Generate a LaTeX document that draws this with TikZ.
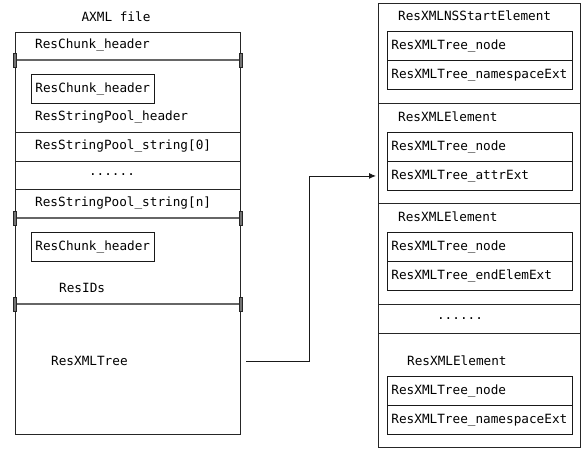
\documentclass[tikz,border=0pt]{standalone}
\usepackage{fontspec}
\setmonofont{DejaVu Sans Mono}
\usetikzlibrary{arrows.meta}
\tikzset{
  x=1pt, y=-1pt,
  every node/.style={font=\ttfamily\fontsize{12.7}{14}\selectfont, text=black},
  lbl/.style={anchor=west, inner sep=0pt},
  outer/.style={draw=black!85, line width=1pt, anchor=north west, inner sep=0pt},
  rowbox/.style={draw=black!90, line width=0.9pt, anchor=north west, minimum height=29pt,
    text width=177pt, inner xsep=4pt, inner ysep=0pt, align=left},
  hdrbox/.style={draw=black!90, line width=0.9pt, anchor=north west, minimum height=29pt,
    inner xsep=4pt, inner ysep=0pt},
  sep/.style={draw=black!85, line width=0.9pt},
  thickdiv/.style={draw=black!85, line width=0.8pt, double=black!60, double distance=1.3pt},
  tickmark/.style={draw=black!85, fill=black!55, line width=0.5pt},
  conn/.style={draw=black!90, line width=0.9pt, -{Latex[length=7pt,width=6pt]}}
}
\begin{document}
\begin{tikzpicture}
\useasboundingbox (0,0) rectangle (587,452);
% ---------- left: AXML file ----------
\node (title) at (116,17) {AXML file};
\node[outer, minimum width=225pt, minimum height=402pt] (axml) at (15,32) {};
\node[lbl] (ch0) at (35,45) {ResChunk\_header};
\node[hdrbox] (ch1) at (31,74) {ResChunk\_header};
\node[lbl] (sph) at (35,117) {ResStringPool\_header};
\node[lbl] (s0) at (35,146) {ResStringPool\_string[0]};
\node (ldots) at (112,175) {......};
\node[lbl] (sn) at (35,203) {ResStringPool\_string[n]};
\node[hdrbox] (ch2) at (31,232) {ResChunk\_header};
\node[lbl] (ids) at (59,288) {ResIDs};
\node[lbl] (tree) at (51,361) {ResXMLTree};
\foreach \yy in {132,161,189} {
  \draw[sep] (axml.west |- 0,\yy) -- (axml.east |- 0,\yy);
}
\foreach \yy in {60,218,304} {
  \draw[thickdiv] (axml.west |- 0,\yy) -- (axml.east |- 0,\yy);
  \draw[tickmark] ([shift={(-1.6,-7)}]axml.west |- 0,\yy) rectangle ([shift={(1.6,7)}]axml.west |- 0,\yy);
  \draw[tickmark] ([shift={(-1.6,-7)}]axml.east |- 0,\yy) rectangle ([shift={(1.6,7)}]axml.east |- 0,\yy);
}
% ---------- right: elements ----------
\node[outer, minimum width=202pt, minimum height=444pt] (rbox) at (378,3) {};
\node[lbl] (e0) at (398,16) {ResXMLNSStartElement};
\node[rowbox] (n0) at (387,31) {ResXMLTree\_node};
\node[rowbox] (x0) at (387,60) {ResXMLTree\_namespaceExt};
\node[lbl] (e1) at (398,117) {ResXMLElement};
\node[rowbox] (n1) at (387,132) {ResXMLTree\_node};
\node[rowbox] (x1) at (387,161) {ResXMLTree\_attrExt};
\node[lbl] (e2) at (398,217) {ResXMLElement};
\node[rowbox] (n2) at (387,232) {ResXMLTree\_node};
\node[rowbox] (x2) at (387,261) {ResXMLTree\_endElemExt};
\node (rdots) at (460,319) {......};
\node[lbl] (e3) at (407,361) {ResXMLElement};
\node[rowbox] (n3) at (387,376) {ResXMLTree\_node};
\node[rowbox] (x3) at (387,405) {ResXMLTree\_namespaceExt};
\foreach \yy in {103,203,304,333} {
  \draw[sep] (rbox.west |- 0,\yy) -- (rbox.east |- 0,\yy);
}
% ---------- connector ----------
\coordinate (cs) at ([xshift=5pt]axml.east |- tree.center);
\coordinate (ce) at ([xshift=-2pt]rbox.west |- x1.center);
\coordinate (bend) at (309,0);
\draw[conn] (cs) -| (bend |- ce) -- (ce);
\end{tikzpicture}
\end{document}
